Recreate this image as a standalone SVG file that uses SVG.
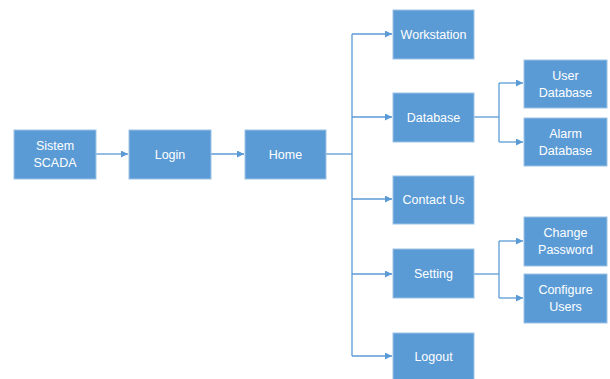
<svg xmlns="http://www.w3.org/2000/svg" width="610" height="379" viewBox="0 0 610 379">
<defs>
<style>
.box{fill:#5B9BD5;stroke:#9DC3E6;stroke-width:1}
.t{font-family:"Liberation Sans","Open Sans",sans-serif;font-size:12.5px;fill:#ffffff;text-anchor:middle;dominant-baseline:central}
.c{fill:none;stroke:#5B9BD5;stroke-width:1.3}
</style>
<marker id="ah" viewBox="0 0 10 10" refX="10" refY="5" markerWidth="7" markerHeight="7" markerUnits="userSpaceOnUse" orient="auto">
<path d="M0,0 L10,5 L0,10 z" fill="#5B9BD5"/>
</marker>
</defs>
<rect width="610" height="379" fill="#ffffff"/>
<g id="connectors">
<path class="c" d="M96,154 H128" marker-end="url(#ah)"/>
<path class="c" d="M211,154 H244" marker-end="url(#ah)"/>
<path class="c" d="M326,154 H352"/>
<path class="c" d="M352,34 V356"/>
<path class="c" d="M352,34 H392" marker-end="url(#ah)"/>
<path class="c" d="M352,117 H392" marker-end="url(#ah)"/>
<path class="c" d="M352,199 H392" marker-end="url(#ah)"/>
<path class="c" d="M352,274 H392" marker-end="url(#ah)"/>
<path class="c" d="M352,356 H392" marker-end="url(#ah)"/>
<path class="c" d="M474,117 H499"/>
<path class="c" d="M499,83 V142"/>
<path class="c" d="M499,83 H523" marker-end="url(#ah)"/>
<path class="c" d="M499,142 H523" marker-end="url(#ah)"/>
<path class="c" d="M474,274 H499"/>
<path class="c" d="M499,241 V298"/>
<path class="c" d="M499,241 H523" marker-end="url(#ah)"/>
<path class="c" d="M499,298 H523" marker-end="url(#ah)"/>
</g>
<g id="sistem-scada"><rect class="box" x="14" y="130" width="82" height="49"/><text class="t" x="55" y="146">Sistem</text><text class="t" x="55" y="163">SCADA</text></g>
<g id="login"><rect class="box" x="129" y="130" width="82" height="49"/><text class="t" x="170" y="154.5">Login</text></g>
<g id="home"><rect class="box" x="245" y="130" width="81" height="49"/><text class="t" x="285.5" y="154.5">Home</text></g>
<g id="workstation"><rect class="box" x="393" y="10" width="81" height="49"/><text class="t" x="433.5" y="34.5">Workstation</text></g>
<g id="database"><rect class="box" x="393" y="93" width="81" height="49"/><text class="t" x="433.5" y="117.5">Database</text></g>
<g id="contact-us"><rect class="box" x="393" y="176" width="81" height="48"/><text class="t" x="433.5" y="199.5">Contact Us</text></g>
<g id="setting"><rect class="box" x="393" y="249" width="81" height="49"/><text class="t" x="433.5" y="273.5">Setting</text></g>
<g id="logout"><rect class="box" x="393" y="333" width="81" height="48"/><text class="t" x="433.5" y="356.5">Logout</text></g>
<g id="user-database"><rect class="box" x="524" y="60" width="83" height="48"/><text class="t" x="565.5" y="76">User</text><text class="t" x="565.5" y="93">Database</text></g>
<g id="alarm-database"><rect class="box" x="524" y="118" width="83" height="48"/><text class="t" x="565.5" y="134">Alarm</text><text class="t" x="565.5" y="151">Database</text></g>
<g id="change-password"><rect class="box" x="524" y="217" width="83" height="49"/><text class="t" x="565.5" y="233">Change</text><text class="t" x="565.5" y="250">Password</text></g>
<g id="configure-users"><rect class="box" x="524" y="274" width="83" height="49"/><text class="t" x="565.5" y="290">Configure</text><text class="t" x="565.5" y="307">Users</text></g>
</svg>
